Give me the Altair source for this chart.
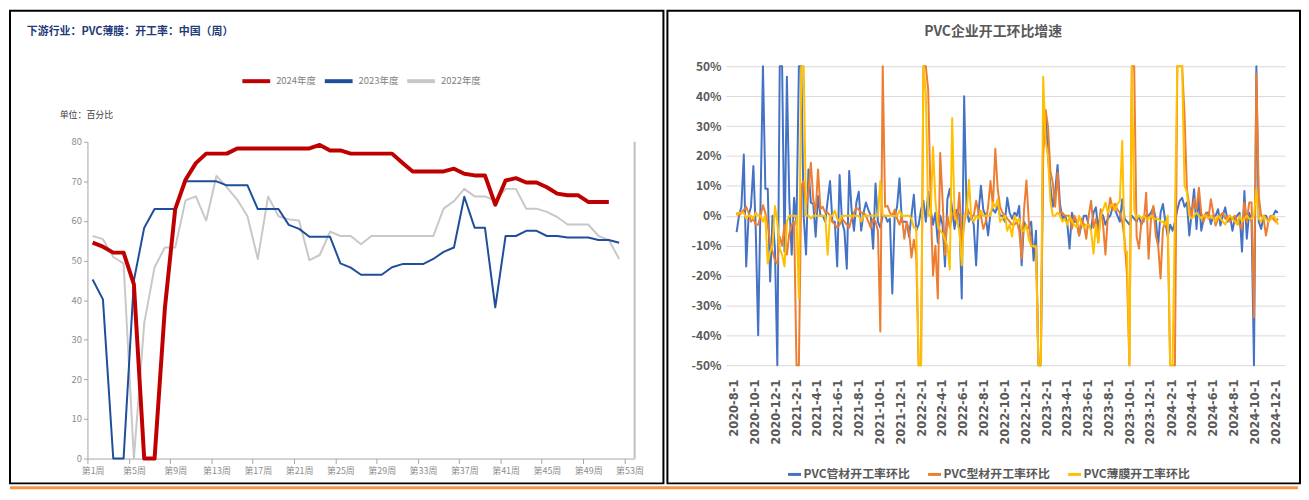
import altair as alt
import pandas as pd

FONT = "Noto Sans CJK SC"

# ---------------- left panel data ----------------
left_title = "下游行业：PVC薄膜：开工率：中国（周）"
left_unit = "单位：百分比"
year_names = ["2024年度", "2023年度", "2022年度"]
year_colors = ["#C00000", "#1F4E9A", "#C8C8C8"]
week_ticks = [1, 5, 9, 13, 17, 21, 25, 29, 33, 37, 41, 45, 49, 53]

rate_2024 = [54.5, 53.5, 52, 52, 44, 0, 0, 38, 63, 70.4,
             74.6, 77, 77, 77, 78.3, 78.3, 78.3, 78.3, 78.3, 78.3,
             78.3, 78.3, 79.2, 77.8, 77.8, 77, 77, 77, 77, 77,
             74.7, 72.5, 72.5, 72.5, 72.5, 73.2, 71.9, 71.5, 71.5, 64.1,
             70.2, 70.8, 69.7, 69.7, 68.5, 66.9, 66.5, 66.5, 64.8, 64.8,
             64.8]
rate_2023 = [45.2, 40.2, 0, 0, 45, 58.3, 63, 63, 63, 70,
             70, 70, 70, 69, 69, 69, 63, 63, 63, 59,
             58, 56, 56, 56, 49.3, 48.2, 46.4, 46.4, 46.4, 48.3,
             49.1, 49.1, 49.1, 50.4, 52.2, 53.3, 66.1, 58.3, 58.3, 38.2,
             56.2, 56.2, 57.5, 57.5, 56.2, 56.2, 55.8, 55.8, 55.8, 55.2,
             55.2, 54.5]
rate_2022 = [56.2, 55.4, 50.9, 49.3, 0, 34.2, 48.3, 53.3, 53.3, 65.2,
             66.2, 60.1, 71.4, 68.5, 65.4, 61.2, 50.4, 66.2, 61.2, 60.4,
             60.1, 50.1, 51.4, 57.3, 56.2, 56.2, 54.1, 56.2, 56.2, 56.2,
             56.2, 56.2, 56.2, 56.2, 63.1, 65, 68.1, 66.2, 66.2, 65.1,
             68.1, 68.1, 63.1, 63.1, 62.3, 61, 59.1, 59.1, 59.1, 56.2,
             55.2, 50.4]

# ---------------- right panel data ----------------
right_title = "PVC企业开工环比增速"
series_names = ["PVC管材开工率环比", "PVC型材开工率环比", "PVC薄膜开工率环比"]
series_colors = ["#4472C4", "#ED7D31", "#FFC000"]
first_week = "2020-08-07"
date_tick_months = [(2020, 8), (2020, 10), (2020, 12)] + [
    (y, m) for y in (2021, 2022, 2023, 2024) for m in (2, 4, 6, 8, 10, 12)]
pct_ticks = [-50, -40, -30, -20, -10, 0, 10, 20, 30, 40, 50]

pipe_mom = [-5.5, 0, 3, 20.5, -17, 0, 3, 16.6, -5, -40,
            5, 80, 9, 9, -22, 0, -11, -70, 90, 90,
            -12, 46.5, 5, -13, 6, -3, 90, 90, 0, -13,
            15.5, 4.4, 4, -7, 6.6, 0, 0, -2, 5, 11.6,
            -2, -2, -17, 13.6, -2, -5, -17.7, 15, 2, -5,
            4.4, 8, -5, 1, 4.4, 2, 0, -11, 10.8, -2,
            -4, 0, 0, -2, -1, -26, 0, 3, 12.5, -2,
            -2, -2, -7, 0, 7, -5, -3, 2, 5, -2,
            8, 2, -3, 1, -9, 0, -3, -17, 5.5, 9,
            2, -4.4, 2, 0, -27.7, 40, 2, -2, 0, -3,
            -16.6, 1, 10, 2, 0, -6.6, 1, 2.2, 1, 3.3,
            0, 0, -2, 6, 1, -1, 1, 0, 3.3, -16.6,
            -2, -4, -4, -2, -15, -5, -70, -70, 30, 35,
            20, 10, 3, 8, 17, 4, -1, 0, -2, -11,
            1, -2, -2, -6.6, -3, 0, 0, -3.3, -4.4, 1,
            2.8, -4.4, 1, 0, -3, -1, 0, 2.8, 2, 0,
            -2, 5.5, -1, -2, -3, 0, -1, -2, 0, -3,
            -1, 0, 0, 1, 2.8, -1, -10, 1, 3.9, -2,
            -7, -3, -5, -2, 2, 5, 6, 3, 4.4, -6.6,
            1, 8.9, -4.4, 6.6, -5, -1, 1, 1, -2.8, 0,
            0, 2.2, -3.3, 0, 2.8, -2, 0, -5, -1, 0,
            1, -12, 8.3, -7.7, 1, -2, -70, 90, -2, -4.4,
            0, 0, -2, -1, 0, 1.7, 1]
profile_mom = [1, 0, 1, 2, 3, 1, -2, -1, -3, -3,
               0, 3.5, 1, -3, -9, -12, -15, -16, -7, -10,
               -3, -13, -6, -3, -2, -70, -70, 10, 11.6, 3,
               8, 17.7, 5.5, 1, 15.5, 2.2, 3, 1, 1, 0,
               -2, -3, -4, -3, -1, -2, -3, -4, -1, 1,
               2.8, 2, 1, 1, 0, -2, -4, -1, -2, -5,
               -38.7, 90, 3, 3.3, 1, 0, 2, -1, -3, 0,
               -7.7, -2, -5, -14, -8, -13, -70, -70, 90, 90,
               42, 5, -20, -10, -27.7, 21, 5, -13, 0, -4,
               0, 2, -2, 7.7, -9, -3, 3.3, 1, 0, 0,
               5, 1, 0, -4.4, -2, 3, 11.6, 3, 22.4, 9,
               3, 1, 0, -1, -2, -3, -3, -2, -5, -14.4,
               2, 11.8, -2, -10, -10.5, -10, -70, -70, 20, 35.4,
               30, 15, 11, 3, 14.4, 1, 1, 0, 0, 0,
               -4.4, 0, -2, -6.6, -1, -3, -7.7, 0, 5, -4,
               -1, -8.9, 2.2, -3, -13, 0, 6, 2, 4, 2,
               1, -2, -8, -20, -70, 90, 90, -7, -11, -2,
               -2, 7.7, -14.4, -1, 3.3, -6.6, -10, -21, -4.4, -2,
               -5, -70, -70, -70, 90, 90, 90, 33.8, 8.9, 3.3,
               0, 5.5, 2, 9.4, 1, -2, 1, -1, 5.5, 1,
               -3.3, -1, 0, 1, -1, 0, -2, -1, 0, -2,
               -3, -4.4, 4.4, -2, 4.4, 4.4, -34, 47.6, 6.6, 0,
               -1, -6.6, -2, 0, -1, -2, -1]
film_mom = [0, 1, 1, 1, -1, 0, 0, -1, 1, 0,
            0, -2, 0, -16, -12, -10, 3.3, -2, -11, -13,
            -17, -2, 0, 0, 0, 0, -27.7, 90, 90, 0,
            0, -1, 0, 0, 0, 0, 0, 0, -13, 0,
            0, 1.7, -1, -2, 0, 0, 0, 0, 0, 0,
            0, 0, -2, 0, 0, 0, 0, 0, 0, 0,
            11.6, 0, 0, 0, 0, 0, 0, 0, 1.7, 0,
            0, 0, 0, -1, -4, -4, -70, -70, 90, 41,
            0, 0, 23, 5, -3, -5, -6, -8, -10, -18,
            32.7, 0, -2, -5, -16.6, 0, 0, 12, -1, -2,
            0, -1, 1.7, 0, 0, 0, 0, 4.4, 3, 5.5,
            -2, -1, 0, -5, -3, -7, 0, -2, -1, -5,
            -5, -3, -8, -10, -10, -10.5, -70, -70, 46.5, 25,
            20, 5, 0, 0, 1, 0, -2, -1, -3, 0,
            -2, -3, -4, 0, -3, -4, -3, -3, -5, -12.7,
            -3, -9, 0, 2, 4.4, 1, 3, 4, 2, 4,
            5, 25, -12, -12, -70, 90, 2, -1, 0, -1,
            0, -1, -1, 0, -1, -1, -1, -2, -2, -3,
            0, -70, -70, 0, 90, 90, 90, 10, 8, 0,
            -1, 0, 1, 0, -1, 0, 0, -1, 0, -1,
            -2, 0, -1, -2, -3, -1, 0, -1, -2, -3,
            0, -2, -1, 0, -1, -1, 0, 8.9, -1, -2,
            0, -1, -2, -1, 0, -1, -3]

# ======================= LEFT PANEL =======================
LW, LH = 658, 476
x_left = alt.Scale(domain=[0.5, 53.5], range=[78, 629], nice=False, zero=False)
y_left = alt.Scale(domain=[0, 80], range=[451, 132], nice=False, zero=False)
color_left = alt.Scale(domain=year_names, range=year_colors)

xaxis_left = alt.Axis(values=week_ticks, labelExpr="'第' + datum.value + '周'", title=None,
                      grid=False, offset=-25, tickSize=5, tickOffset=-5.2, labelOffset=5.2,
                      tickColor="#A6A6A6", domainColor="#A6A6A6", labelColor="#8C8C8C",
                      labelFontSize=9, labelFont=FONT, labelPadding=3, labelFlush=False,
                      labelOverlap=False)
yaxis_left = alt.Axis(values=list(range(0, 81, 10)), title=None, grid=False, offset=-78,
                      tickSize=4, tickColor="#A6A6A6", domainColor="#A6A6A6",
                      labelColor="#8C8C8C", labelFontSize=9.5, labelFont=FONT,
                      labelPadding=2, labelFlush=False, labelOverlap=False)
legend_left = alt.Legend(orient="none", legendX=232, legendY=55, direction="horizontal",
                         title=None, symbolType="stroke", symbolSize=784,
                         symbolStrokeWidth=4, labelFontSize=9.5, labelColor="#808080",
                         labelFont=FONT, columnPadding=0, labelOffset=4)


def year_line(vals, name, width):
    df = pd.DataFrame({"week": list(range(1, len(vals) + 1)), "rate": vals, "series": name})
    return alt.Chart(df).mark_line(strokeWidth=width, strokeJoin="round").encode(
        x=alt.X("week:Q", scale=x_left, axis=xaxis_left),
        y=alt.Y("rate:Q", scale=y_left, axis=yaxis_left),
        color=alt.Color("series:N", scale=color_left, legend=legend_left),
    )


edge_left = alt.Chart(pd.DataFrame({"week": [53.5], "lo": [0], "hi": [80]})).mark_rule(
    color="#BFBFBF", strokeWidth=2).encode(
    x=alt.X("week:Q", scale=x_left, axis=xaxis_left),
    y=alt.Y("lo:Q", scale=y_left, axis=yaxis_left),
    y2="hi:Q",
)
title_left = alt.Chart(pd.DataFrame({"t": [left_title]})).mark_text(
    align="left", baseline="middle", font=FONT, fontSize=11, fontWeight="bold",
    color="#1F3A7A").encode(x=alt.value(17), y=alt.value(22), text="t:N")
unit_left = alt.Chart(pd.DataFrame({"t": [left_unit]})).mark_text(
    align="left", baseline="middle", font=FONT, fontSize=9, color="#404040").encode(
    x=alt.value(50), y=alt.value(105), text="t:N")

left = alt.layer(
    edge_left,
    year_line(rate_2022, year_names[2], 2),
    year_line(rate_2023, year_names[1], 2),
    year_line(rate_2024, year_names[0], 4),
    title_left, unit_left,
).properties(width=LW, height=LH,
             view=alt.ViewBackground(stroke="black", strokeWidth=2, fill="white"))

# ======================= RIGHT PANEL =======================
RW, RH = 637, 476
x_right = alt.Scale(domain=[alt.DateTime(year=2020, month=7, date=7),
                            alt.DateTime(year=2024, month=12, date=27)],
                    range=[59, 622], nice=False)
y_right = alt.Scale(domain=[-0.5, 0.5], range=[357, 56], clamp=True, nice=False, zero=False)
color_right = alt.Scale(domain=series_names, range=series_colors)

xaxis_right = alt.Axis(values=[alt.DateTime(year=y, month=m, date=1) for y, m in date_tick_months],
                       format="%Y-%-m-%-d", formatType="time", title=None, grid=False,
                       ticks=False, domain=False, offset=-119, labelAngle=270,
                       labelPadding=14, labelFont="DejaVu Sans", labelFontWeight="bold",
                       labelFontSize=11.5, labelColor="#595959", labelOverlap=False,
                       labelFlush=False)
yaxis_right = alt.Axis(values=[p / 100 for p in pct_ticks],
                       labelExpr="round(datum.value * 100) + '%'", title=None, grid=True,
                       gridColor="#D9D9D9", gridWidth=1, domain=False, ticks=False,
                       offset=-59, labelPadding=5, labelFont=FONT, labelFontWeight="bold",
                       labelFontSize=12, labelColor="#595959", labelFlush=False,
                       labelOverlap=False)
legend_right = alt.Legend(orient="none", legendX=120, legendY=459, direction="horizontal",
                          title=None, symbolType="stroke", symbolSize=169,
                          symbolStrokeWidth=3, labelFontSize=12, labelFontWeight="bold",
                          labelColor="#595959", labelFont=FONT, columnPadding=11,
                          labelOffset=1)


def mom_line(vals, name):
    df = pd.DataFrame({
        "date": pd.date_range(first_week, periods=len(vals), freq="7D"),
        "v": [x / 100 for x in vals],
        "series": name,
    })
    return alt.Chart(df).mark_line(strokeWidth=2, strokeJoin="round").encode(
        x=alt.X("date:T", scale=x_right, axis=xaxis_right),
        y=alt.Y("v:Q", scale=y_right, axis=yaxis_right),
        color=alt.Color("series:N", scale=color_right, legend=legend_right),
    )


title_right = alt.Chart(pd.DataFrame({"t": [right_title]})).mark_text(
    align="center", baseline="middle", font=FONT, fontSize=14, fontWeight="bold",
    color="#595959").encode(x=alt.value(328), y=alt.value(22), text="t:N")

right = alt.layer(
    mom_line(pipe_mom, series_names[0]),
    mom_line(profile_mom, series_names[1]),
    mom_line(film_mom, series_names[2]),
    title_right,
).properties(width=RW, height=RH,
             view=alt.ViewBackground(stroke="black", strokeWidth=2, fill="white"))

top = alt.hconcat(left, right, spacing=2).resolve_scale(
    x="independent", y="independent", color="independent").resolve_legend(color="independent")

strip = alt.Chart(pd.DataFrame({"k": [0]})).mark_rule(color="#F79646", strokeWidth=3).encode(
    x=alt.value(0), x2=alt.value(LW + RW + 2), y=alt.value(1.5)
).properties(width=LW + RW + 2, height=3, view=alt.ViewBackground(stroke=None))

chart = alt.vconcat(top, strip, spacing=2).properties(
    padding=0, background="white").configure(font=FONT)

chart.save("out.html", embed_options={"renderer": "svg", "actions": False})
